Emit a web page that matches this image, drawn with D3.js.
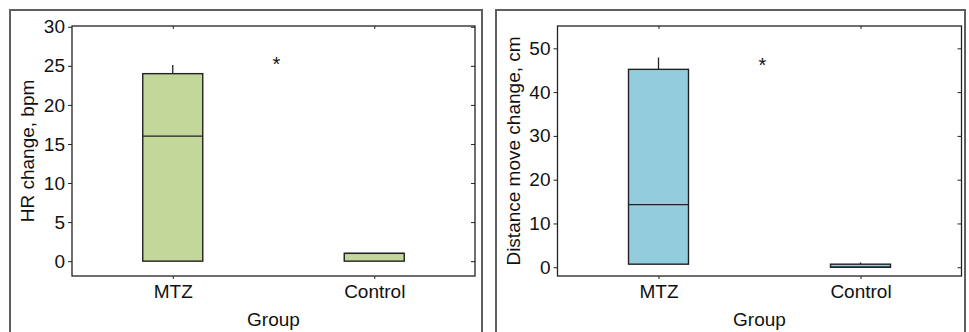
<!DOCTYPE html>
<html><head><meta charset="utf-8">
<script src="https://cdn.jsdelivr.net/npm/d3@7"></script>
<style>body{margin:0;background:#fff}svg{display:block}text{font-family:"Liberation Sans",Arial,sans-serif;fill:#111}</style>
</head><body>
<svg id="c" width="969" height="332"></svg>
<script>
const categories = ["MTZ", "Control"];
// box stats: [min, q1, median, q3, max]
const hrStats = [[0, 0, 16, 24, 25.1], [0, 0, 1, 1, 1]];
const distStats = [[0.7, 0.7, 14.3, 45.2, 47.9], [0, 0, 0, 0.7, 1.1]];
const hrTicks = [0, 5, 10, 15, 20, 25, 30];
const distTicks = [0, 10, 20, 30, 40, 50];
const hrDomain = [-1.9, 30.1];
const distDomain = [-2, 55.1];
const hrStar = 25.7, distStar = 47.1;

const svg = d3.select("#c");
const FS = "19px";

function panel(cfg) {
  const g = svg.append("g");
  g.append("rect").attr("x", cfg.fx0).attr("y", 10).attr("width", cfg.fx1 - cfg.fx0).attr("height", 340)
    .attr("fill", "none").attr("stroke", "#5f5f5f").attr("stroke-width", 2);
  const x = d3.scalePoint().domain(categories).range([cfg.px0, cfg.px1]).padding(0.5);
  const y = d3.scaleLinear().domain(cfg.domain).range([276, 26]);
  const bw = 60;

  const yl = d3.axisLeft(y).tickValues(cfg.ticks).tickSize(4).tickPadding(3).tickSizeOuter(0);
  const yr = d3.axisRight(y).tickValues(cfg.ticks).tickSize(-4).tickFormat("").tickSizeOuter(0);
  const xb = d3.axisBottom(x).tickSize(3).tickPadding(8).tickSizeOuter(0);
  const xt = d3.axisTop(x).tickSize(-3).tickFormat("").tickSizeOuter(0);
  const ga = g.append("g").attr("transform", `translate(${cfg.px0},0)`).call(yl);
  g.append("g").attr("transform", `translate(${cfg.px1},0)`).call(yr);
  const gb = g.append("g").attr("transform", `translate(0,276)`).call(xb);
  g.append("g").attr("transform", `translate(0,26)`).call(xt);
  g.selectAll(".domain").remove();
  g.selectAll(".tick line").attr("stroke", "#222");
  ga.selectAll("text").style("font-size", FS).attr("fill", "#111");
  gb.selectAll("text").style("font-size", FS).attr("fill", "#111").attr("dy", "0.71em").attr("y", 9);
  g.selectAll("text").attr("font-family", null);

  g.append("rect").attr("x", cfg.px0).attr("y", 26).attr("width", cfg.px1 - cfg.px0).attr("height", 250)
    .attr("fill", "none").attr("stroke", "#222").attr("stroke-width", 1.3);

  const bx = g.selectAll(".box").data(categories.map((c, i) => ({c, s: cfg.stats[i]}))).join("g");
  bx.append("line").attr("x1", d => x(d.c)).attr("x2", d => x(d.c))
    .attr("y1", d => y(d.s[3])).attr("y2", d => y(d.s[4])).attr("stroke", "#222").attr("stroke-width", 1.3);
  bx.append("line").attr("x1", d => x(d.c)).attr("x2", d => x(d.c))
    .attr("y1", d => y(d.s[1])).attr("y2", d => y(d.s[0])).attr("stroke", "#222").attr("stroke-width", 1.3);
  bx.append("rect").attr("x", d => x(d.c) - bw / 2).attr("width", bw)
    .attr("y", d => y(d.s[3])).attr("height", d => y(d.s[1]) - y(d.s[3]))
    .attr("fill", cfg.color).attr("stroke", "#222").attr("stroke-width", 1.4);
  bx.append("line").attr("x1", d => x(d.c) - bw / 2).attr("x2", d => x(d.c) + bw / 2)
    .attr("y1", d => y(d.s[2])).attr("y2", d => y(d.s[2])).attr("stroke", "#222").attr("stroke-width", 1.4);

  g.append("text").attr("x", (x(categories[0]) + x(categories[1])) / 2 + 3).attr("y", y(cfg.star) + 11)
    .attr("text-anchor", "middle").style("font-size", "20px").attr("fill", "#333").text("*");

  g.append("text").attr("x", (cfg.px0 + cfg.px1) / 2).attr("y", 326).attr("text-anchor", "middle")
    .style("font-size", FS).text("Group");
  g.append("text").attr("transform", `translate(${cfg.ylx},151) rotate(-90)`).attr("text-anchor", "middle")
    .style("font-size", FS).text(cfg.ylabel);
}

panel({fx0: 10, fx1: 482, px0: 72, px1: 475, domain: hrDomain, ticks: hrTicks, stats: hrStats,
  color: "#c4d79b", star: hrStar, ylabel: "HR change, bpm", ylx: 34});
panel({fx0: 496, fx1: 965, px0: 557.5, px1: 961.5, domain: distDomain, ticks: distTicks, stats: distStats,
  color: "#93cddd", star: distStar, ylabel: "Distance move change, cm", ylx: 520});
</script>
</body></html>
